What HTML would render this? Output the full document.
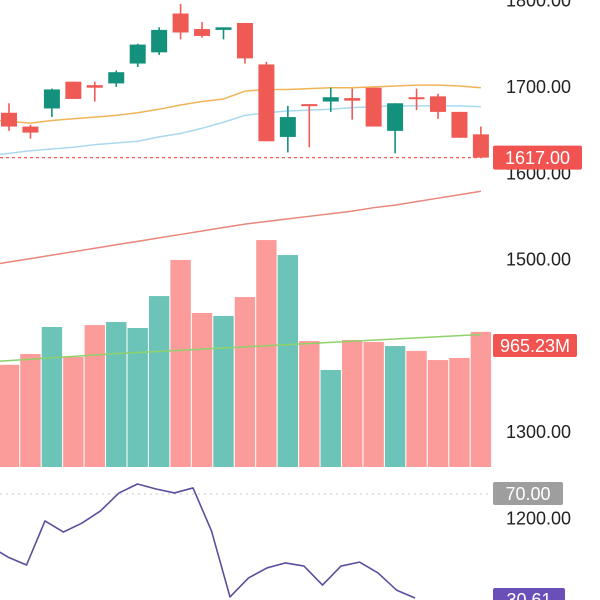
<!DOCTYPE html>
<html><head><meta charset="utf-8">
<style>
html,body{margin:0;padding:0;background:#fff;}
svg{display:block;font-family:"Liberation Sans",sans-serif;}
</style></head>
<body>
<svg id="c" width="600" height="600" viewBox="0 0 600 600"></svg>
<script>
const opens  = [1669,1653,1674,1705,1701,1703,1726,1739,1784,1766,1765,1773,1725,1641,1679,1682,1686,1698,1648,1687,1688,1670,1644];
const closes = [1653,1646,1696,1685,1698,1716,1748,1765,1762,1758,1768,1732,1636,1664,1677,1687,1683,1653,1680,1685,1670,1640,1617];
const highs  = [1680,1655,1697,1705,1705,1718,1749,1768,1795,1774,1768,1773,1728,1677,1679,1698,1697,1698,1680,1697,1691,1670,1653];
const lows   = [1648,1639,1664,1685,1682,1699,1722,1736,1754,1756,1754,1726,1636,1623,1629,1670,1661,1653,1622,1672,1662,1640,1617];
const maA    = [1659,1657,1660,1662,1664,1666,1669,1673,1678,1682,1685,1694,1696,1696,1697,1698,1698,1699,1700,1701,1701,1700,1698];
const maB    = [1622,1625,1627,1629,1632,1634,1636,1641,1645,1651,1658,1666,1669,1671,1672,1673,1675,1676,1677,1677,1677,1677,1676];
const maLong = [1496,1500,1504,1508,1512,1516,1520,1524,1528,1532,1536,1540,1543,1546,1549,1552,1555,1559,1562,1566,1570,1574,1578];
const volumes= [730,807,1000,786,1014,1036,993,1221,1479,1100,1079,1214,1621,1514,900,693,907,893,864,829,764,779,965.23];
const volMA  = [760,770,780,790,800,810,818,826,834,842,850,858,866,874,882,890,898,906,914,922,930,938,946];
const rsi    = [50.3,46.1,43.1,59.8,55.6,59.0,63.6,70.4,73.8,71.9,70.4,72.3,56.0,31.0,38.2,42.0,43.9,42.7,35.5,42.7,44.2,40.1,33.6,30.6];
const priceTicks = ["1800.00","1700.00","1600.00","1500.00","1400.00","1300.00","1200.00"];
const lastPrice = 1617, lastVolLabel = "965.23M", rsiLevel = 70, rsiLabel = "30.61";

const NS="http://www.w3.org/2000/svg", svg=document.getElementById('c');
function mk(t,a,p){const e=document.createElementNS(NS,t);for(const k in a)e.setAttribute(k,a[k]);(p||svg).appendChild(e);return e;}
const xC=i=>9+i*21.45;
const yP=p=>86-(p-1700)*0.863;
const yV=v=>467-v*0.14;
const xR=i=>-10.5+i*18.5;
const yR=v=>494+(rsiLevel-v)*2.64;
const RED="#f05a55",GRN="#13917d";

priceTicks.forEach((t,i)=>{const e=mk('text',{x:506,y:yP(1800-i*100)+7,'font-size':18,fill:'#222'});e.textContent=t;
});

const gv=mk('g',{});
volumes.forEach((v,i)=>{const up=closes[i]>=opens[i];const r=mk('rect',{x:xC(i)-10.2,y:yV(v),width:20.4,height:467-yV(v),fill:up?'#6cc4b8':'#fb9c9a'},gv);
});

function line(arr,xf,yf,col,w,name,ext){let pts=arr.map((v,i)=>[xf(i),yf(v)]);
if(ext){const a=pts[0],b=pts[1];const s=(b[1]-a[1])/(b[0]-a[0]);pts.unshift([0,a[1]-s*a[0]]);}
const l=mk('polyline',{points:pts.map(p=>p.join(',')).join(' '),fill:'none',stroke:col,'stroke-width':w,'stroke-linejoin':'round'});
}
line(maLong,xC,yP,'#e8877c',1.5,'long-ma-line',true);
line(volMA,xC,yV,'#8fd16a',1.5,'volume-ma-line',true);
line(maA,xC,yP,'#f0b458',1.5,'ma-short-line',true);
line(maB,xC,yP,'#a9d9ef',1.5,'ma-mid-line',true);

const lp=mk('line',{x1:0,x2:482,y1:yP(lastPrice),y2:yP(lastPrice),stroke:RED,'stroke-width':1.2,'stroke-dasharray':'3,3'});


const gc=mk('g',{});
opens.forEach((o,i)=>{const c=closes[i];const col=c>=o?GRN:RED;const x=xC(i);
const w=mk('line',{x1:x,x2:x,y1:yP(highs[i]),y2:yP(lows[i]),stroke:col,'stroke-width':1.6},gc);

const t=yP(Math.max(o,c)),b=yP(Math.min(o,c));
const r=mk('rect',{x:x-8,y:t,width:16,height:Math.max(2,b-t),fill:col},gc);
});

const rl=mk('line',{x1:0,x2:490,y1:yR(rsiLevel),y2:yR(rsiLevel),stroke:'#c8c8c8','stroke-width':1,'stroke-dasharray':'2,4'});

line(rsi,xR,yR,'#5a4f9c',1.6,'rsi-line',false);

function tag(x,y,w,h,bg,txt,name){const g=mk('g',{});
mk('rect',{x:x,y:y,width:w,height:h,rx:2,fill:bg},g);const t=mk('text',{x:x+w/2,y:y+h/2+6.5,'font-size':18,fill:'#fff','text-anchor':'middle'},g);t.textContent=txt;}
tag(493,yP(lastPrice)-12,89,24,'#f05350',lastPrice.toFixed(2),'last-price-label');
tag(493,334,84,23,'#f05350',lastVolLabel,'last-volume-label');
tag(493,482,70,23,'#9e9e9e',rsiLevel.toFixed(2),'rsi-70-label');
tag(493,yR(rsi[rsi.length-1])-10,72,23,'#6a4fb8',rsiLabel,'rsi-value-label');
</script>
</body></html>
